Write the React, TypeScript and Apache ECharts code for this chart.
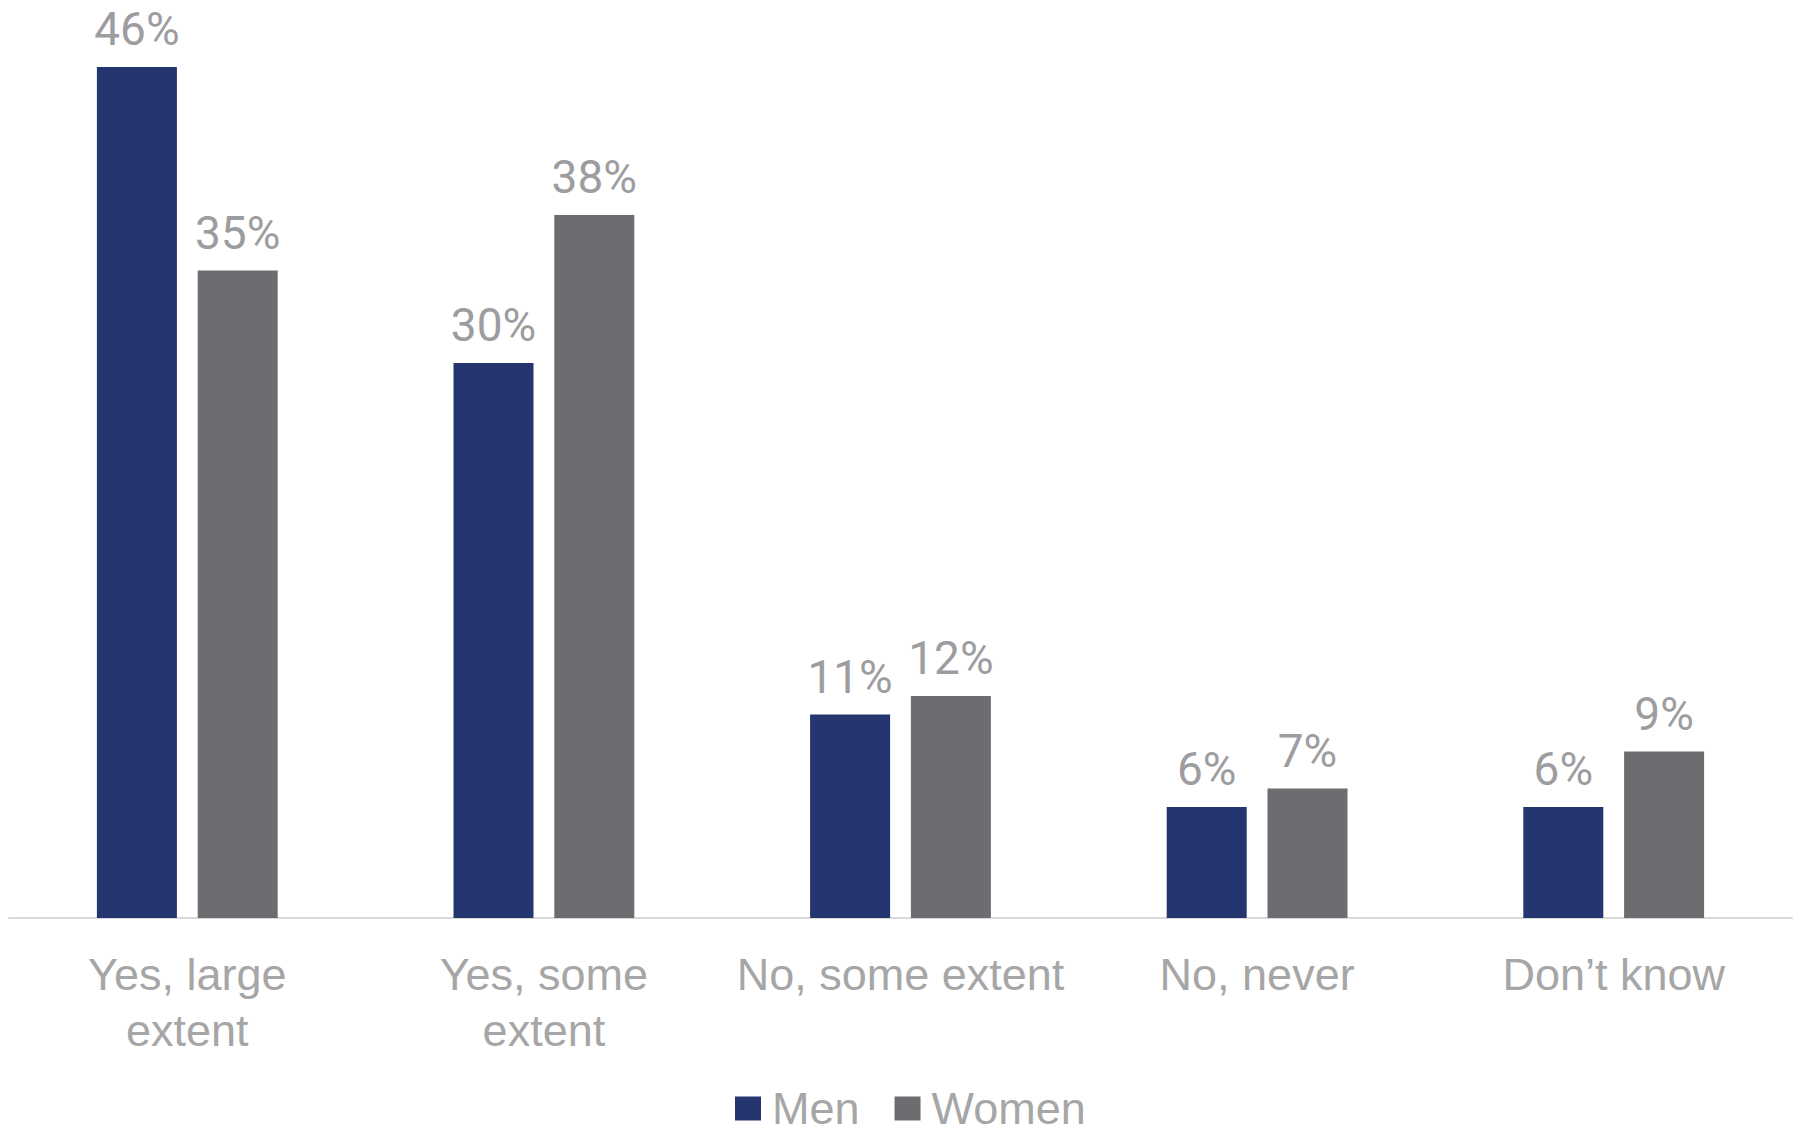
import React, { useEffect, useRef } from "react";
import * as echarts from "echarts";

const categories = ["Yes, large\nextent", "Yes, some\nextent", "No, some extent", "No, never", "Don\u2019t know"];
const menValues = [46, 30, 11, 6, 6];
const womenValues = [35, 38, 12, 7, 9];
const seriesNames = ["Men", "Women"];

export default function App() {
  const ref = useRef<HTMLDivElement>(null);
  useEffect(() => {
    if (!ref.current) return;
    const chart = echarts.init(ref.current, undefined, { renderer: "svg" });
    const valueLabel = {
      show: true,
      position: "top" as const,
      distance: 15,
      formatter: "{c}%",
      color: "#9d9d9f",
      fontSize: 46,
      fontFamily: "Roboto, 'Liberation Sans', sans-serif",
    };
    chart.setOption({
      animation: false,
      backgroundColor: "#ffffff",
      grid: { left: 9, right: 3, top: 67, bottom: 213, containLabel: false },
      legend: {
        data: seriesNames,
        top: 1081,
        left: 730,
        itemWidth: 26,
        itemHeight: 24,
        itemGap: 35,
        icon: "rect",
        textStyle: {
          color: "#a6a6a6",
          fontSize: 45,
          lineHeight: 44,
          fontFamily: "'Liberation Sans', sans-serif",
          padding: [0, 0, 0, 6],
        },
      },
      xAxis: {
        type: "category",
        data: categories,
        axisLine: { show: true, lineStyle: { color: "#d9d9d9", width: 2 } },
        axisTick: { show: false },
        axisLabel: {
          color: "#a6a6a6",
          fontSize: 45,
          lineHeight: 56,
          margin: 28,
          fontFamily: "'Liberation Sans', sans-serif",
          interval: 0,
        },
      },
      yAxis: { type: "value", min: 0, max: 46, show: false, splitLine: { show: false } },
      series: [
        {
          name: seriesNames[0],
          type: "bar",
          data: menValues,
          barWidth: 80,
          barGap: "26%",
          itemStyle: { color: "#253570" },
          label: valueLabel,
        },
        {
          name: seriesNames[1],
          type: "bar",
          data: womenValues,
          barWidth: 80,
          itemStyle: { color: "#6c6d71" },
          label: valueLabel,
        },
      ],
    });
    return () => chart.dispose();
  }, []);
  return <div ref={ref} style={{ position: "absolute", left: 0, top: 0, width: 1795, height: 1131 }} />;
}
